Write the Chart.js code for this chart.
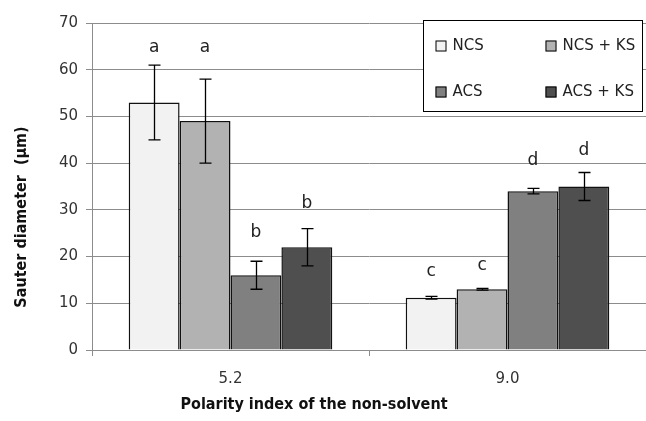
<!DOCTYPE html>
<html>
<head>
<meta charset="utf-8">
<script src="https://cdn.jsdelivr.net/npm/chart.js@4"></script>
<style>
  html, body { margin: 0; padding: 0; background: #fff; }
  #wrap { width: 646px; height: 421px; }
</style>
</head>
<body>
<div id="wrap"><canvas id="myChart" width="646" height="421"></canvas></div>
<script>
// categories (polarity index)
let categories = ['5.2', '9.0'];

// series names and values (Sauter diameter, um)
let seriesNames = ['NCS', 'NCS + KS', 'ACS', 'ACS + KS'];
let ncs = [53, 11.2];
let ncsKs = [49, 13];
let acs = [16, 34];
let acsKs = [22, 35];

// error bar half widths
let ncsErr = [8, 0.3];
let ncsKsErr = [9, 0.2];
let acsErr = [3, 0.6];
let acsKsErr = [4, 3];

// significance letters and the value they sit at
let ncsLetters = ['a', 'c'];
let ncsKsLetters = ['a', 'c'];
let acsLetters = ['b', 'd'];
let acsKsLetters = ['b', 'd'];
let ncsLetterAt = [64.8, 16.8];
let ncsKsLetterAt = [64.8, 18.1];
let acsLetterAt = [25.2, 40.5];
let acsKsLetterAt = [31.3, 42.6];

// y tick labels
let yTicks = [0, 10, 20, 30, 40, 50, 60, 70];

let colors = ['#f2f2f2', '#b2b2b2', '#808080', '#4f4f4f'];
let allValues = [ncs, ncsKs, acs, acsKs];
let allErrors = [ncsErr, ncsKsErr, acsErr, acsKsErr];
let allLetters = [ncsLetters, ncsKsLetters, acsLetters, acsKsLetters];
let allLetterAt = [ncsLetterAt, ncsKsLetterAt, acsLetterAt, acsKsLetterAt];

let font = "'DejaVu Sans', sans-serif";
let titleFont = "bold 16px 'DejaVu Sans Condensed', 'DejaVu Sans', sans-serif";

let datasets = [];
for (let i = 0; i < seriesNames.length; i++) {
    datasets.push({
        label: seriesNames[i],
        data: allValues[i],
        backgroundColor: colors[i],
        borderColor: '#111',
        borderWidth: 1.5,
        borderSkipped: 'bottom',
        errors: allErrors[i],
        letters: allLetters[i],
        letterAt: allLetterAt[i]
    });
}

// error bars and letters
const extras = {
    id: 'extras',
    afterDatasetsDraw(chart) {
        const c = chart.ctx;
        const y = chart.scales.y;
        c.save();
        chart.data.datasets.forEach((ds, i) => {
            chart.getDatasetMeta(i).data.forEach((bar, j) => {
                const v = ds.data[j], e = ds.errors[j];
                const x = Math.round(bar.x) + 0.5;
                const yTop = y.getPixelForValue(v + e);
                const yBot = y.getPixelForValue(v - e);
                c.strokeStyle = '#000';
                c.lineWidth = 1.3;
                c.beginPath();
                c.moveTo(x, yTop); c.lineTo(x, yBot);
                c.moveTo(x - 6, yTop); c.lineTo(x + 6, yTop);
                c.moveTo(x - 6, yBot); c.lineTo(x + 6, yBot);
                c.stroke();
                c.fillStyle = '#222';
                c.font = '17px ' + font;
                c.textAlign = 'center';
                c.textBaseline = 'middle';
                c.fillText(ds.letters[j], bar.x, y.getPixelForValue(ds.letterAt[j]));
            });
        });
        c.restore();
    }
};

// boxed legend inside the plot, plus axis titles
const boxLegend = {
    id: 'boxLegend',
    afterDraw(chart) {
        const c = chart.ctx;
        const bx = 423.5, by = 20.5, bw = 219, bh = 91;
        c.save();
        c.fillStyle = '#fff';
        c.fillRect(bx, by, bw, bh);
        c.strokeStyle = '#000';
        c.lineWidth = 1;
        c.strokeRect(bx, by, bw, bh);
        c.font = '15px ' + font;
        c.textBaseline = 'middle';
        c.textAlign = 'left';
        chart.data.datasets.forEach((ds, i) => {
            const col = i % 2, row = Math.floor(i / 2);
            const sx = bx + 12 + col * 110;
            const sy = by + 25 + row * 46;
            c.fillStyle = ds.backgroundColor;
            c.fillRect(sx, sy - 5, 11, 11);
            c.strokeRect(sx + 0.5, sy - 4.5, 10, 10);
            c.fillStyle = '#222';
            c.fillText(ds.label, sx + 17, sy + 1);
        });

        // axis titles
        c.fillStyle = '#111';
        c.font = titleFont;
        c.textAlign = 'center';
        c.textBaseline = 'middle';
        c.fillText('Polarity index of the non-solvent', 314, 405);
        c.translate(22, 217);
        c.rotate(-Math.PI / 2);
        c.fillText('Sauter diameter  (µm)', 0, 0);
        c.restore();
    }
};

let ctx = document.getElementById('myChart');

let myChart = new Chart(ctx, {
    type: 'bar',
    data: { labels: categories, datasets: datasets },
    plugins: [extras, boxLegend],
    options: {
        responsive: false,
        animation: false,
        layout: { padding: { left: 0, right: 0, top: 23, bottom: 0 } },
        plugins: { legend: { display: false }, tooltip: { enabled: false } },
        datasets: { bar: { categoryPercentage: 0.735, barPercentage: 1 } },
        scales: {
            x: {
                afterFit(scale) { scale.height = 71; },
                grid: { drawOnChartArea: false, drawTicks: true, tickLength: 6, color: '#8c8c8c' },
                border: { color: '#8c8c8c' },
                ticks: { color: '#333', font: { family: font, size: 15 }, padding: 14 }
            },
            y: {
                min: 0, max: 70,
                afterBuildTicks(axis) { axis.ticks = yTicks.map(v => ({ value: v })); },
                afterFit(scale) { scale.width = 92; },
                grid: { color: '#8c8c8c', tickLength: 6 },
                border: { color: '#8c8c8c' },
                ticks: { color: '#333', font: { family: font, size: 15 }, padding: 8 }
            }
        }
    }
});
</script>
</body>
</html>
